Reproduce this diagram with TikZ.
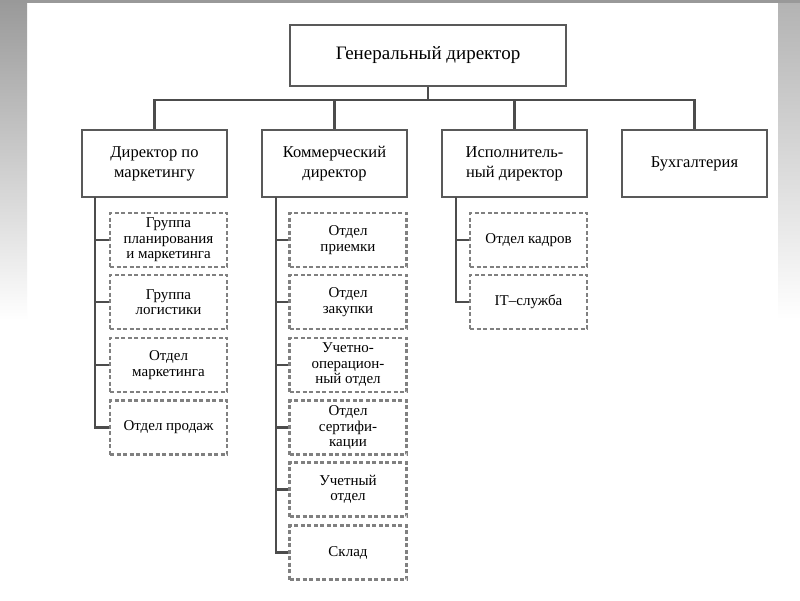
\documentclass[tikz,border=0pt]{standalone}
\usepackage{fontspec}
\setmainfont{Liberation Serif}
\begin{document}
\begin{tikzpicture}[x=1pt,y=-1pt,
  solidbox/.style={draw=gray!70!black,line width=2.6pt,fill=white,align=center,inner sep=0pt,font=\fontsize{16.5}{20}\selectfont},
  dbox/.style={draw=gray,line width=2.2pt,dash pattern=on 4pt off 2.5pt,align=center,inner sep=0pt,minimum width=117pt,minimum height=54pt,font=\fontsize{15}{15.5}\selectfont},
  conn/.style={draw=gray!60!black,line width=2.4pt}]
\useasboundingbox (0,0) rectangle (800,600);
\fill[white] (0,0) rectangle (800,600);
\shade[top color=gray!80,bottom color=white] (0,0) rectangle (27,320);
\shade[top color=gray!60,bottom color=white] (778,0) rectangle (800,320);
\fill[gray!80] (0,0) rectangle (800,3);
\node[solidbox,minimum width=276pt,minimum height=61pt,font=\fontsize{19}{22}\selectfont] (gen) at (428,55.5) {Генеральный директор};
\node[solidbox,minimum width=145pt,minimum height=67pt] (a) at (154.5,163.5) {Директор по\\маркетингу};
\node[solidbox,minimum width=145pt,minimum height=67pt] (b) at (334.5,163.5) {Коммерческий\\директор};
\node[solidbox,minimum width=145pt,minimum height=67pt] (c) at (514.5,163.5) {Исполнитель-\\ный директор};
\node[solidbox,minimum width=145pt,minimum height=67pt] (d) at (694.5,163.5) {Бухгалтерия};
\coordinate (bus) at (428,100);
\draw[conn] (gen.south) -- (bus);
\draw[conn] (a.north) |- (bus) -| (d.north);
\draw[conn] (b.north) -- (b.north |- bus);
\draw[conn] (c.north) -- (c.north |- bus);
\node[dbox] (a1) at (168.5,240) {Группа\\планирования\\и маркетинга};
\node[dbox] (a2) at (168.5,302) {Группа\\логистики};
\node[dbox] (a3) at (168.5,365) {Отдел\\маркетинга};
\node[dbox] (a4) at (168.5,427.5) {Отдел продаж};
\node[dbox] (b1) at (348,240) {Отдел\\приемки};
\node[dbox] (b2) at (348,302) {Отдел\\закупки};
\node[dbox] (b3) at (348,365) {Учетно-\\операцион-\\ный отдел};
\node[dbox] (b4) at (348,427.5) {Отдел\\сертифи-\\кации};
\node[dbox] (b5) at (348,489.5) {Учетный\\отдел};
\node[dbox] (b6) at (348,552.5) {Склад};
\node[dbox] (c1) at (528.5,240) {Отдел кадров};
\node[dbox] (c2) at (528.5,302) {IT--служба};
\coordinate (ta) at (95,197);
\coordinate (tb) at (276,197);
\coordinate (tc) at (456,197);
\draw[conn] (ta) |- (a4.west);
\foreach \n in {a1,a2,a3} \draw[conn] (\n.west) -- (\n.west -| ta);
\draw[conn] (tb) |- (b6.west);
\foreach \n in {b1,b2,b3,b4,b5} \draw[conn] (\n.west) -- (\n.west -| tb);
\draw[conn] (tc) |- (c2.west);
\draw[conn] (c1.west) -- (c1.west -| tc);
\end{tikzpicture}
\end{document}
